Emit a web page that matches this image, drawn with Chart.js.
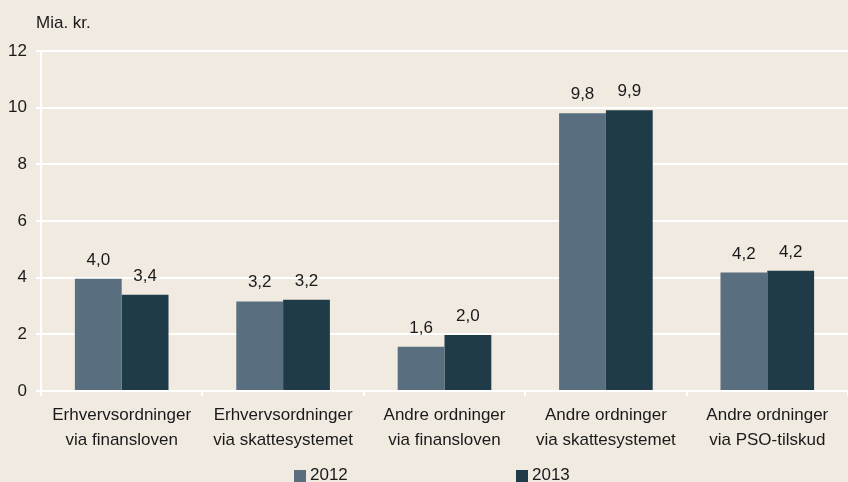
<!DOCTYPE html>
<html>
<head>
<meta charset="utf-8">
<script src="https://cdn.jsdelivr.net/npm/chart.js@4.4.1/dist/chart.umd.min.js"></script>
<style>
  html, body { margin: 0; padding: 0; background: #f0eae0; }
  #wrap { position: relative; width: 848px; height: 482px; }
</style>
</head>
<body>
<div id="wrap"><canvas id="chart" width="848" height="482"></canvas></div>
<script>
// Data
const categories = [
    ['Erhvervsordninger', 'via finansloven'],
    ['Erhvervsordninger', 'via skattesystemet'],
    ['Andre ordninger', 'via finansloven'],
    ['Andre ordninger', 'via skattesystemet'],
    ['Andre ordninger', 'via PSO-tilskud']
];
const seriesNames = ['2012', '2013'];
const values2012 = [3.96, 3.16, 1.56, 9.80, 4.18];
const values2013 = [3.40, 3.22, 1.98, 9.91, 4.24];
const yTicks = [0, 2, 4, 6, 8, 10, 12];
const unitLabel = 'Mia. kr.';

const colors = ['#596e7e', '#1e3b47'];
const textColor = '#1a1a1a';
const font = { family: '"Liberation Sans", Arial, sans-serif', size: 17 };

// value labels above the bars, comma decimals
const valueLabels = {
    id: 'valueLabels',
    afterDatasetsDraw(chart) {
        const ctx = chart.ctx;
        ctx.save();
        ctx.font = font.size + 'px ' + font.family;
        ctx.fillStyle = textColor;
        ctx.textAlign = 'center';
        ctx.textBaseline = 'alphabetic';
        chart.data.datasets.forEach((ds, i) => {
            chart.getDatasetMeta(i).data.forEach((bar, j) => {
                const txt = ds.data[j].toFixed(1).replace('.', ',');
                ctx.fillText(txt, bar.x, bar.y - 14);
            });
        });
        ctx.restore();
    }
};

// unit label and legend at the bottom
const extras = {
    id: 'extras',
    afterDraw(chart) {
        const ctx = chart.ctx;
        ctx.save();
        ctx.font = font.size + 'px ' + font.family;
        ctx.fillStyle = textColor;
        ctx.textBaseline = 'alphabetic';
        ctx.fillText(unitLabel, 36, 28);
        const xs = [294, 516];
        chart.data.datasets.forEach((ds, i) => {
            ctx.fillStyle = ds.backgroundColor;
            ctx.fillRect(xs[i], 470, 12, 12);
            ctx.fillStyle = textColor;
            ctx.fillText(ds.label, xs[i] + 16, 480);
        });
        ctx.restore();
    }
};

new Chart(document.getElementById('chart').getContext('2d'), {
    type: 'bar',
    data: {
        labels: categories,
        datasets: seriesNames.map((name, i) => ({
            label: name,
            data: i === 0 ? values2012 : values2013,
            backgroundColor: colors[i],
            categoryPercentage: 0.58,
            barPercentage: 1
        }))
    },
    options: {
        responsive: false,
        animation: false,
        layout: { padding: { top: 51, right: -9, left: 0, bottom: 0 } },
        plugins: {
            legend: { display: false },
            tooltip: { enabled: false }
        },
        scales: {
            x: {
                grid: { offset: true, drawOnChartArea: false, drawTicks: true, tickLength: 5, color: '#ffffff', lineWidth: 2 },
                border: { color: '#ffffff', width: 2 },
                ticks: { color: textColor, font: { ...font, lineHeight: 25 / 17 }, padding: 7, maxRotation: 0, autoSkip: false },
                afterFit(scale) { scale.height = 91; }
            },
            y: {
                min: 0,
                max: 12,
                afterBuildTicks(scale) { scale.ticks = yTicks.map(v => ({ value: v })); },
                grid: { color: '#ffffff', lineWidth: 2, tickLength: 5 },
                border: { color: '#ffffff', width: 2 },
                ticks: { color: textColor, font: font, padding: 9 },
                afterFit(scale) { scale.width = 41; }
            }
        }
    },
    plugins: [valueLabels, extras]
});
</script>
</body>
</html>
